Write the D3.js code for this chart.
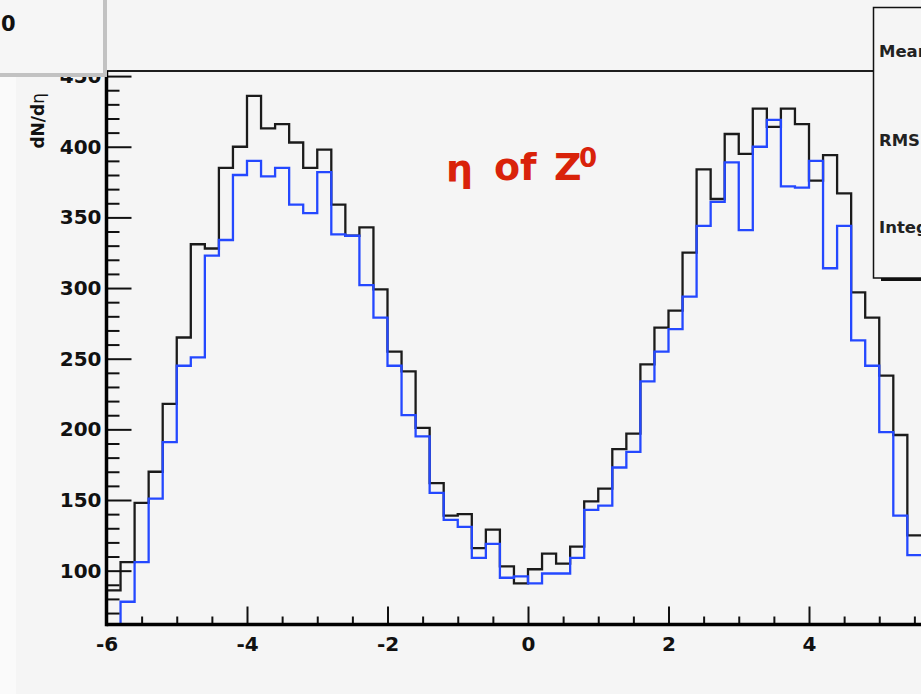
<!DOCTYPE html>
<html>
<head>
<meta charset="utf-8">
<script src="https://cdn.jsdelivr.net/npm/d3@7"></script>
<style>
  html, body { margin: 0; padding: 0; background: #f5f5f5; }
  svg { display: block; }
  text { font-family: "DejaVu Sans", Verdana, sans-serif; }
</style>
</head>
<body>
<svg id="chart" width="921" height="694"></svg>
<script>
// dN/deta of the Z0: two overlaid histograms, 0.2-wide bins starting at eta = -6
const etaStart = -6;
const binWidth = 0.2;

// bin contents, black histogram
const countsBlack = [
  86, 106, 148, 170, 218, 265, 331, 328, 385, 400,
  436, 413, 416, 403, 385, 398, 359, 337, 343, 299,
  255, 241, 201, 162, 139, 140, 116, 129, 103, 91,
  101, 112, 105, 117, 149, 158, 186, 197, 246, 272,
  284, 325, 384, 363, 409, 395, 427, 414, 427, 416,
  376, 394, 367, 297, 279, 238, 196, 125
];

// bin contents, blue histogram
const countsBlue = [
  55, 78, 106, 151, 191, 245, 251, 323, 334, 380,
  390, 379, 385, 359, 353, 382, 338, 337, 302, 279,
  245, 210, 195, 155, 136, 131, 109, 119, 95, 96,
  91, 98, 98, 109, 143, 146, 173, 184, 234, 255,
  271, 294, 344, 361, 389, 341, 400, 419, 372, 371,
  390, 314, 344, 263, 245, 198, 139, 111
];

const xTicksMajor = [-6, -4, -2, 0, 2, 4];
const xTicksMinor = [-5.5, -5, -4.5, -3.5, -3, -2.5, -1.5, -1, -0.5, 0.5, 1, 1.5, 2.5, 3, 3.5, 4.5, 5, 5.5];
const yTicksMajor = [100, 150, 200, 250, 300, 350, 400, 450];
const yTicksMinor = [70, 80, 90, 110, 120, 130, 140, 160, 170, 180, 190, 210, 220, 230, 240,
  260, 270, 280, 290, 310, 320, 330, 340, 360, 370, 380, 390, 410, 420, 430, 440];

const statsLabels = ["Mean", "RMS", "Integral"];

const W = 921, H = 694;
const frame = { left: 106.5, top: 71, bottom: 624.5 };
const labelFont = "'DejaVu Sans', Verdana, sans-serif";

const x = d3.scaleLinear().domain([-6, 6]).range([frame.left, 949.5]);
const y = d3.scaleLinear().domain([61.9, 453.6]).range([frame.bottom, frame.top]).clamp(true);

const svg = d3.select("#chart");

// canvas background with a lighter strip along the left edge
svg.append("rect").attr("width", W).attr("height", H).attr("fill", "#f5f5f5");
svg.append("rect").attr("x", 0).attr("y", 0).attr("width", 16).attr("height", H).attr("fill", "#fafafa");

svg.append("defs").append("clipPath").attr("id", "plotClip")
  .append("rect")
  .attr("x", frame.left).attr("y", frame.top)
  .attr("width", W - frame.left).attr("height", frame.bottom - frame.top);

// histogram outlines
function stepPoints(vals) {
  const pts = [[etaStart, y.domain()[0]]];
  vals.forEach((v, i) => pts.push([etaStart + i * binWidth, v]));
  pts.push([etaStart + vals.length * binWidth, vals[vals.length - 1]]);
  return pts;
}
const stepLine = d3.line()
  .x(d => x(d[0]))
  .y(d => y(d[1]))
  .curve(d3.curveStepAfter);

const plot = svg.append("g").attr("clip-path", "url(#plotClip)");
plot.append("path")
  .attr("d", stepLine(stepPoints(countsBlack)))
  .attr("fill", "none").attr("stroke", "#1b1b1b").attr("stroke-width", 2.3);
plot.append("path")
  .attr("d", stepLine(stepPoints(countsBlue)))
  .attr("fill", "none").attr("stroke", "#2448ff").attr("stroke-width", 2.3);

// frame top edge
svg.append("line")
  .attr("x1", frame.left).attr("x2", 874)
  .attr("y1", frame.top).attr("y2", frame.top)
  .attr("stroke", "#1e1e1e").attr("stroke-width", 2);

// x axis (ticks point into the frame)
const fmt = d => String(d);
const xAxisG = svg.append("g").attr("transform", `translate(0,${frame.bottom})`);
xAxisG.append("g")
  .call(d3.axisBottom(x).tickValues(xTicksMinor).tickSize(-8).tickFormat(""))
  .call(g => g.select(".domain").remove());
xAxisG.append("g")
  .call(d3.axisBottom(x).tickValues(xTicksMajor).tickSize(-18).tickPadding(12).tickFormat(fmt))
  .call(g => g.select(".domain").remove());
xAxisG.selectAll(".tick line").attr("stroke", "#111").attr("stroke-width", 2);
xAxisG.selectAll(".tick text")
  .attr("font-size", 20).attr("font-weight", "bold").attr("fill", "#111")
  .attr("font-family", labelFont);

// y axis (ticks point into the frame)
const yAxisG = svg.append("g").attr("transform", `translate(${frame.left},0)`);
yAxisG.append("g")
  .call(d3.axisLeft(y).tickValues(yTicksMinor).tickSize(-13).tickFormat(""))
  .call(g => g.select(".domain").remove());
yAxisG.append("g")
  .call(d3.axisLeft(y).tickValues(yTicksMajor).tickSize(-25).tickPadding(5).tickFormat(fmt))
  .call(g => g.select(".domain").remove());
yAxisG.selectAll(".tick line").attr("stroke", "#111").attr("stroke-width", 2);
yAxisG.selectAll(".tick text")
  .attr("font-size", 20).attr("font-weight", "bold").attr("fill", "#111")
  .attr("font-family", labelFont);

// thick axis lines
svg.append("line")
  .attr("x1", frame.left).attr("x2", W)
  .attr("y1", frame.bottom).attr("y2", frame.bottom)
  .attr("stroke", "#000").attr("stroke-width", 3.5);
svg.append("line")
  .attr("x1", frame.left).attr("x2", frame.left)
  .attr("y1", frame.top).attr("y2", frame.bottom + 1.75)
  .attr("stroke", "#000").attr("stroke-width", 3.5);

// y axis title
const yTitle = svg.append("text")
  .attr("transform", "translate(44,93) rotate(-90)")
  .attr("text-anchor", "end")
  .attr("font-size", 17).attr("font-weight", "bold").attr("fill", "#111");
yTitle.append("tspan").text("dN/d");
yTitle.append("tspan").attr("font-weight", "normal").text("η");

// title pave in the top-left corner
svg.append("rect").attr("x", -5).attr("y", -5).attr("width", 108).attr("height", 78).attr("fill", "#f6f6f6");
svg.append("rect").attr("x", 103).attr("y", -5).attr("width", 4).attr("height", 82).attr("fill", "#c2c2c2");
svg.append("rect").attr("x", -5).attr("y", 73).attr("width", 112).attr("height", 4).attr("fill", "#c2c2c2");
svg.append("text").attr("x", 1).attr("y", 31)
  .attr("font-size", 21).attr("font-weight", "bold").attr("fill", "#111").text("0");

// statistics box
const stats = svg.append("g");
stats.append("rect").attr("x", 881).attr("y", 276).attr("width", 60).attr("height", 5).attr("fill", "#111");
stats.append("rect").attr("x", 873.5).attr("y", 7.5).attr("width", 80).attr("height", 270.5)
  .attr("fill", "#f5f5f5").attr("stroke", "#111").attr("stroke-width", 1.5);
stats.selectAll("text.stat").data(statsLabels).join("text")
  .attr("class", "stat")
  .attr("x", 879)
  .attr("y", (d, i) => [57, 146, 233][i])
  .attr("font-size", 16.5).attr("font-weight", "bold").attr("fill", "#222")
  .text(d => d);

// histogram title
const titleColor = "#d9220a";
svg.append("text").attr("x", 446).attr("y", 181)
  .attr("font-family", "'DejaVu Serif', 'Liberation Serif', serif")
  .attr("font-size", 38).attr("font-weight", "bold").attr("fill", titleColor).text("η");
svg.append("text").attr("x", 494).attr("y", 180)
  .attr("font-family", "'Liberation Sans', Arial, sans-serif")
  .attr("font-size", 38).attr("font-weight", "bold").attr("fill", titleColor).text("of");
svg.append("text").attr("x", 554).attr("y", 180)
  .attr("font-family", "'Liberation Sans', Arial, sans-serif")
  .attr("font-size", 38).attr("font-weight", "bold").attr("fill", titleColor).text("Z");
svg.append("text").attr("x", 579).attr("y", 167)
  .attr("font-family", "'Liberation Sans', Arial, sans-serif")
  .attr("font-size", 26).attr("font-weight", "bold").attr("fill", titleColor).text("0");
</script>
</body>
</html>
